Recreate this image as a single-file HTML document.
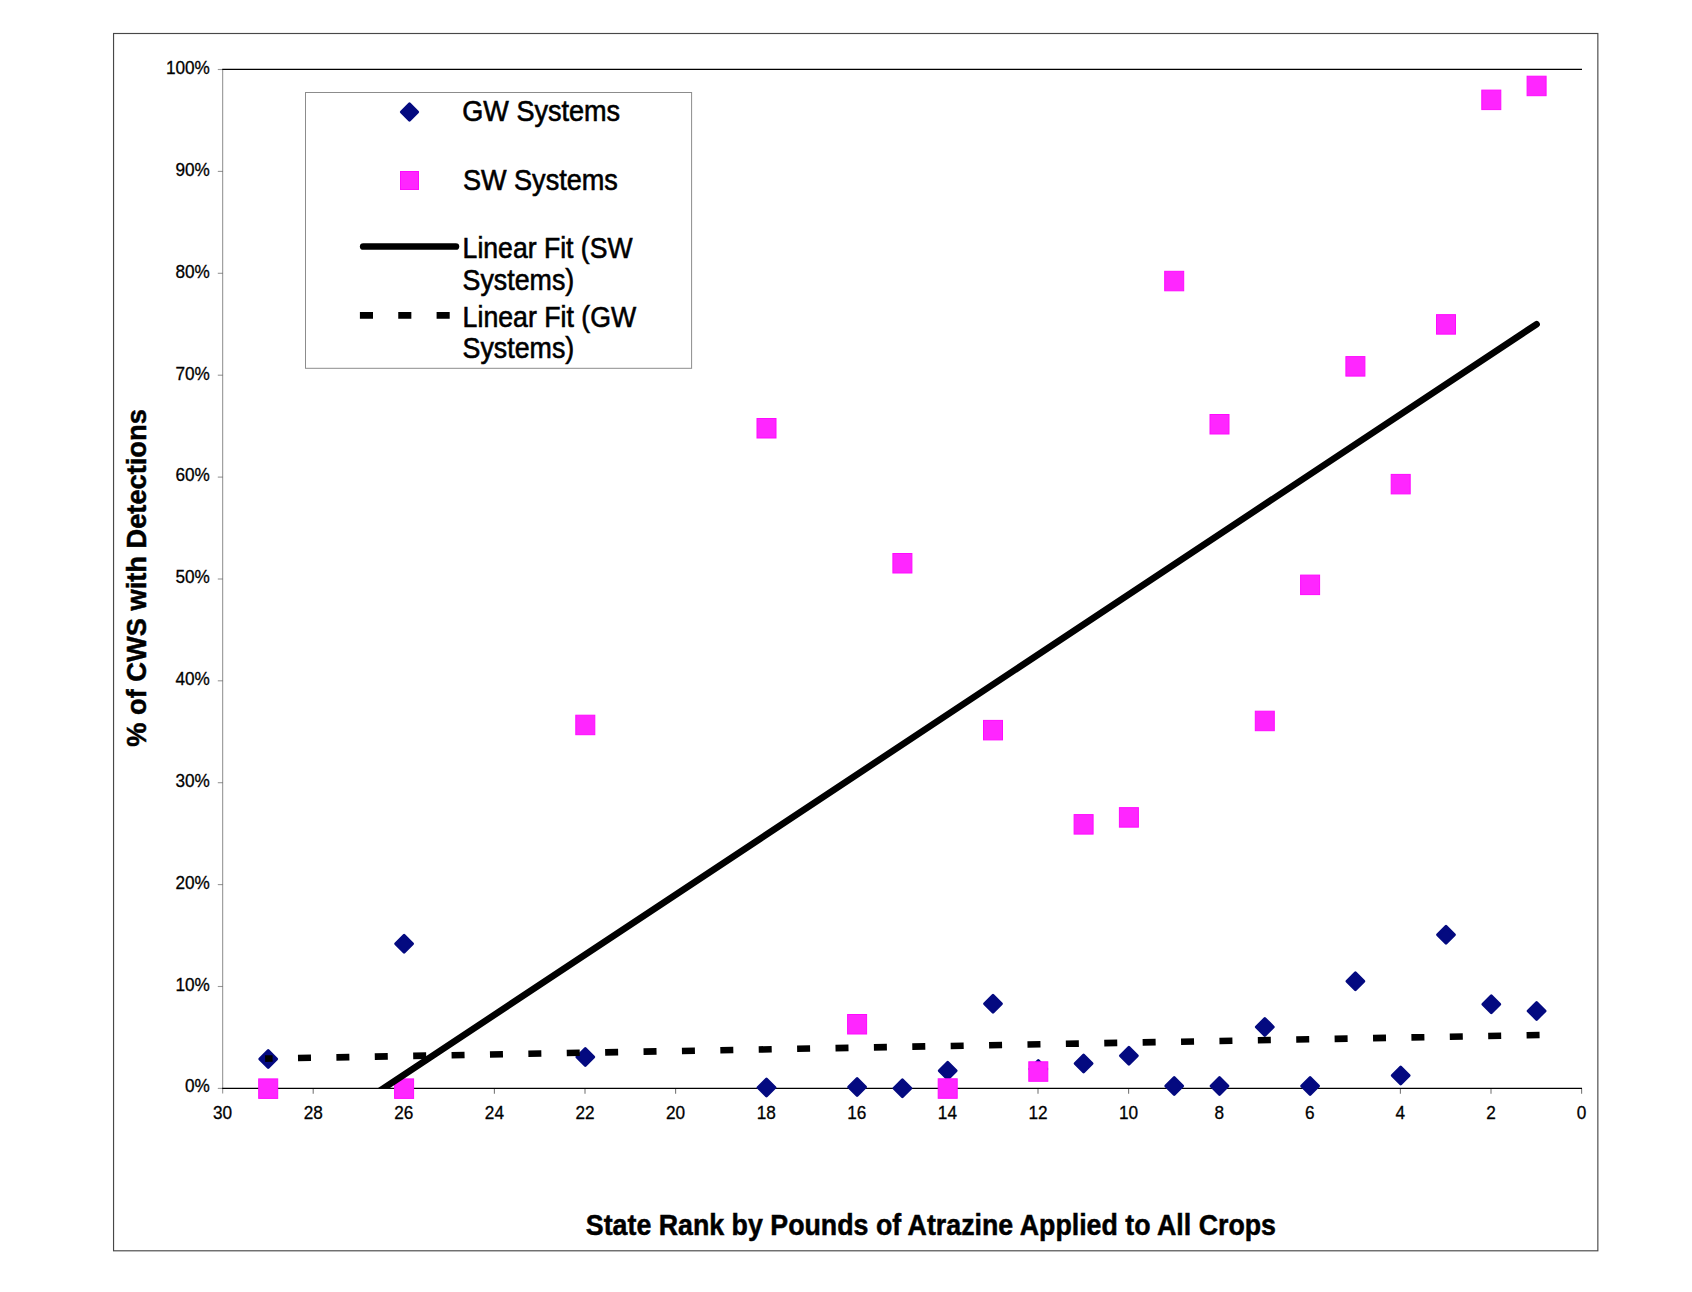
<!DOCTYPE html>
<html lang="en"><head><meta charset="utf-8"><title>Atrazine detections chart</title>
<style>
html,body{margin:0;padding:0;background:#fff;}
body{width:1692px;height:1292px;overflow:hidden;position:relative;}
svg{position:absolute;left:0;top:0;display:block;}
text{font-family:"Liberation Sans","Helvetica","Arial",sans-serif;fill:#000;}
</style></head><body>
<svg width="1692" height="1292" viewBox="0 0 1692 1292">
<rect x="0" y="0" width="1692" height="1292" fill="#fff"/>

<rect x="113.55" y="33.5" width="1484.3" height="1217.3" fill="none" stroke="#484848" stroke-width="1.15"/>
<g stroke="#303030" stroke-opacity="0.5" stroke-width="1.1" fill="none">
<line x1="222.65" y1="69.4" x2="222.65" y2="1093.6"/>
<line x1="217.8" y1="1088.4" x2="222.6" y2="1088.4"/>
<line x1="217.8" y1="986.5" x2="222.6" y2="986.5"/>
<line x1="217.8" y1="884.6" x2="222.6" y2="884.6"/>
<line x1="217.8" y1="782.7" x2="222.6" y2="782.7"/>
<line x1="217.8" y1="680.8" x2="222.6" y2="680.8"/>
<line x1="217.8" y1="579.0" x2="222.6" y2="579.0"/>
<line x1="217.8" y1="477.1" x2="222.6" y2="477.1"/>
<line x1="217.8" y1="375.2" x2="222.6" y2="375.2"/>
<line x1="217.8" y1="273.3" x2="222.6" y2="273.3"/>
<line x1="217.8" y1="171.4" x2="222.6" y2="171.4"/>
<line x1="217.8" y1="69.5" x2="222.6" y2="69.5"/>
<line x1="1581.6" y1="1088.4" x2="1581.6" y2="1093.7" stroke-opacity="0.65"/>
<line x1="1491.0" y1="1088.4" x2="1491.0" y2="1093.7" stroke-opacity="0.65"/>
<line x1="1400.4" y1="1088.4" x2="1400.4" y2="1093.7" stroke-opacity="0.65"/>
<line x1="1309.8" y1="1088.4" x2="1309.8" y2="1093.7" stroke-opacity="0.65"/>
<line x1="1219.2" y1="1088.4" x2="1219.2" y2="1093.7" stroke-opacity="0.65"/>
<line x1="1128.6" y1="1088.4" x2="1128.6" y2="1093.7" stroke-opacity="0.65"/>
<line x1="1038.0" y1="1088.4" x2="1038.0" y2="1093.7" stroke-opacity="0.65"/>
<line x1="947.4" y1="1088.4" x2="947.4" y2="1093.7" stroke-opacity="0.65"/>
<line x1="856.8" y1="1088.4" x2="856.8" y2="1093.7" stroke-opacity="0.65"/>
<line x1="766.2" y1="1088.4" x2="766.2" y2="1093.7" stroke-opacity="0.65"/>
<line x1="675.6" y1="1088.4" x2="675.6" y2="1093.7" stroke-opacity="0.65"/>
<line x1="585.0" y1="1088.4" x2="585.0" y2="1093.7" stroke-opacity="0.65"/>
<line x1="494.4" y1="1088.4" x2="494.4" y2="1093.7" stroke-opacity="0.65"/>
<line x1="403.8" y1="1088.4" x2="403.8" y2="1093.7" stroke-opacity="0.65"/>
<line x1="313.2" y1="1088.4" x2="313.2" y2="1093.7" stroke-opacity="0.65"/>
</g>
<line x1="222.2" y1="69.4" x2="1582" y2="69.4" stroke="#000" stroke-width="1.15"/>
<line x1="222.2" y1="1088.4" x2="1582" y2="1088.4" stroke="#000" stroke-width="1.25"/>
<text transform="translate(209.90 1092.30) scale(0.9350 1)" font-size="18.4" text-anchor="end" stroke="#000" stroke-width="0.3">0%</text>
<text transform="translate(209.90 990.91) scale(0.9350 1)" font-size="18.4" text-anchor="end" stroke="#000" stroke-width="0.3">10%</text>
<text transform="translate(209.90 889.02) scale(0.9350 1)" font-size="18.4" text-anchor="end" stroke="#000" stroke-width="0.3">20%</text>
<text transform="translate(209.90 787.13) scale(0.9350 1)" font-size="18.4" text-anchor="end" stroke="#000" stroke-width="0.3">30%</text>
<text transform="translate(209.90 685.24) scale(0.9350 1)" font-size="18.4" text-anchor="end" stroke="#000" stroke-width="0.3">40%</text>
<text transform="translate(209.90 583.35) scale(0.9350 1)" font-size="18.4" text-anchor="end" stroke="#000" stroke-width="0.3">50%</text>
<text transform="translate(209.90 481.46) scale(0.9350 1)" font-size="18.4" text-anchor="end" stroke="#000" stroke-width="0.3">60%</text>
<text transform="translate(209.90 379.57) scale(0.9350 1)" font-size="18.4" text-anchor="end" stroke="#000" stroke-width="0.3">70%</text>
<text transform="translate(209.90 277.68) scale(0.9350 1)" font-size="18.4" text-anchor="end" stroke="#000" stroke-width="0.3">80%</text>
<text transform="translate(209.90 175.79) scale(0.9350 1)" font-size="18.4" text-anchor="end" stroke="#000" stroke-width="0.3">90%</text>
<text transform="translate(209.90 73.90) scale(0.9350 1)" font-size="18.4" text-anchor="end" stroke="#000" stroke-width="0.3">100%</text>
<text transform="translate(1581.60 1119.20) scale(0.9350 1)" font-size="18.4" text-anchor="middle" stroke="#000" stroke-width="0.3">0</text>
<text transform="translate(1491.00 1119.20) scale(0.9350 1)" font-size="18.4" text-anchor="middle" stroke="#000" stroke-width="0.3">2</text>
<text transform="translate(1400.40 1119.20) scale(0.9350 1)" font-size="18.4" text-anchor="middle" stroke="#000" stroke-width="0.3">4</text>
<text transform="translate(1309.80 1119.20) scale(0.9350 1)" font-size="18.4" text-anchor="middle" stroke="#000" stroke-width="0.3">6</text>
<text transform="translate(1219.20 1119.20) scale(0.9350 1)" font-size="18.4" text-anchor="middle" stroke="#000" stroke-width="0.3">8</text>
<text transform="translate(1128.60 1119.20) scale(0.9350 1)" font-size="18.4" text-anchor="middle" stroke="#000" stroke-width="0.3">10</text>
<text transform="translate(1038.00 1119.20) scale(0.9350 1)" font-size="18.4" text-anchor="middle" stroke="#000" stroke-width="0.3">12</text>
<text transform="translate(947.40 1119.20) scale(0.9350 1)" font-size="18.4" text-anchor="middle" stroke="#000" stroke-width="0.3">14</text>
<text transform="translate(856.80 1119.20) scale(0.9350 1)" font-size="18.4" text-anchor="middle" stroke="#000" stroke-width="0.3">16</text>
<text transform="translate(766.20 1119.20) scale(0.9350 1)" font-size="18.4" text-anchor="middle" stroke="#000" stroke-width="0.3">18</text>
<text transform="translate(675.60 1119.20) scale(0.9350 1)" font-size="18.4" text-anchor="middle" stroke="#000" stroke-width="0.3">20</text>
<text transform="translate(585.00 1119.20) scale(0.9350 1)" font-size="18.4" text-anchor="middle" stroke="#000" stroke-width="0.3">22</text>
<text transform="translate(494.40 1119.20) scale(0.9350 1)" font-size="18.4" text-anchor="middle" stroke="#000" stroke-width="0.3">24</text>
<text transform="translate(403.80 1119.20) scale(0.9350 1)" font-size="18.4" text-anchor="middle" stroke="#000" stroke-width="0.3">26</text>
<text transform="translate(313.20 1119.20) scale(0.9350 1)" font-size="18.4" text-anchor="middle" stroke="#000" stroke-width="0.3">28</text>
<text transform="translate(222.60 1119.20) scale(0.9350 1)" font-size="18.4" text-anchor="middle" stroke="#000" stroke-width="0.3">30</text>
<path d="M268.2 1050.5L276.7 1059.0L268.2 1067.5L259.7 1059.0Z" fill="#040a80" stroke="#040a80" stroke-width="2.8" stroke-linejoin="round"/>
<path d="M404.1 935.3L412.6 943.8L404.1 952.3L395.6 943.8Z" fill="#040a80" stroke="#040a80" stroke-width="2.8" stroke-linejoin="round"/>
<path d="M585.3 1048.5L593.8 1057.0L585.3 1065.5L576.8 1057.0Z" fill="#040a80" stroke="#040a80" stroke-width="2.8" stroke-linejoin="round"/>
<path d="M766.5 1078.9L775.0 1087.4L766.5 1095.9L758.0 1087.4Z" fill="#040a80" stroke="#040a80" stroke-width="2.8" stroke-linejoin="round"/>
<path d="M857.1 1078.5L865.6 1087.0L857.1 1095.5L848.6 1087.0Z" fill="#040a80" stroke="#040a80" stroke-width="2.8" stroke-linejoin="round"/>
<path d="M902.4 1079.8L910.9 1088.3L902.4 1096.8L893.9 1088.3Z" fill="#040a80" stroke="#040a80" stroke-width="2.8" stroke-linejoin="round"/>
<path d="M947.7 1062.3L956.2 1070.8L947.7 1079.3L939.2 1070.8Z" fill="#040a80" stroke="#040a80" stroke-width="2.8" stroke-linejoin="round"/>
<path d="M993.0 995.3L1001.5 1003.8L993.0 1012.3L984.5 1003.8Z" fill="#040a80" stroke="#040a80" stroke-width="2.8" stroke-linejoin="round"/>
<path d="M1038.3 1060.5L1046.8 1069.0L1038.3 1077.5L1029.8 1069.0Z" fill="#040a80" stroke="#040a80" stroke-width="2.8" stroke-linejoin="round"/>
<path d="M1083.6 1054.9L1092.1 1063.4L1083.6 1071.9L1075.1 1063.4Z" fill="#040a80" stroke="#040a80" stroke-width="2.8" stroke-linejoin="round"/>
<path d="M1128.9 1047.3L1137.4 1055.8L1128.9 1064.3L1120.4 1055.8Z" fill="#040a80" stroke="#040a80" stroke-width="2.8" stroke-linejoin="round"/>
<path d="M1174.2 1077.6L1182.7 1086.1L1174.2 1094.6L1165.7 1086.1Z" fill="#040a80" stroke="#040a80" stroke-width="2.8" stroke-linejoin="round"/>
<path d="M1219.5 1077.6L1228.0 1086.1L1219.5 1094.6L1211.0 1086.1Z" fill="#040a80" stroke="#040a80" stroke-width="2.8" stroke-linejoin="round"/>
<path d="M1264.8 1018.4L1273.3 1026.9L1264.8 1035.4L1256.3 1026.9Z" fill="#040a80" stroke="#040a80" stroke-width="2.8" stroke-linejoin="round"/>
<path d="M1310.1 1077.6L1318.6 1086.1L1310.1 1094.6L1301.6 1086.1Z" fill="#040a80" stroke="#040a80" stroke-width="2.8" stroke-linejoin="round"/>
<path d="M1355.4 972.7L1363.9 981.2L1355.4 989.7L1346.9 981.2Z" fill="#040a80" stroke="#040a80" stroke-width="2.8" stroke-linejoin="round"/>
<path d="M1400.7 1067.0L1409.2 1075.5L1400.7 1084.0L1392.2 1075.5Z" fill="#040a80" stroke="#040a80" stroke-width="2.8" stroke-linejoin="round"/>
<path d="M1446.0 926.3L1454.5 934.8L1446.0 943.3L1437.5 934.8Z" fill="#040a80" stroke="#040a80" stroke-width="2.8" stroke-linejoin="round"/>
<path d="M1491.3 995.8L1499.8 1004.3L1491.3 1012.8L1482.8 1004.3Z" fill="#040a80" stroke="#040a80" stroke-width="2.8" stroke-linejoin="round"/>
<path d="M1536.6 1002.4L1545.1 1010.9L1536.6 1019.4L1528.1 1010.9Z" fill="#040a80" stroke="#040a80" stroke-width="2.8" stroke-linejoin="round"/>
<rect x="258.70" y="1078.90" width="19" height="19.5" fill="#ff26ff" stroke="#ff0aff" stroke-width="1"/>
<rect x="394.60" y="1078.90" width="19" height="19.5" fill="#ff26ff" stroke="#ff0aff" stroke-width="1"/>
<rect x="575.80" y="715.20" width="19" height="19.5" fill="#ff26ff" stroke="#ff0aff" stroke-width="1"/>
<rect x="757.00" y="418.50" width="19" height="19.5" fill="#ff26ff" stroke="#ff0aff" stroke-width="1"/>
<rect x="847.60" y="1014.50" width="19" height="19.5" fill="#ff26ff" stroke="#ff0aff" stroke-width="1"/>
<rect x="892.90" y="553.50" width="19" height="19.5" fill="#ff26ff" stroke="#ff0aff" stroke-width="1"/>
<rect x="938.20" y="1078.80" width="19" height="19.5" fill="#ff26ff" stroke="#ff0aff" stroke-width="1"/>
<rect x="983.50" y="720.40" width="19" height="19.5" fill="#ff26ff" stroke="#ff0aff" stroke-width="1"/>
<rect x="1028.80" y="1061.80" width="19" height="19.5" fill="#ff26ff" stroke="#ff0aff" stroke-width="1"/>
<rect x="1074.10" y="814.60" width="19" height="19.5" fill="#ff26ff" stroke="#ff0aff" stroke-width="1"/>
<rect x="1119.40" y="807.65" width="19" height="19.5" fill="#ff26ff" stroke="#ff0aff" stroke-width="1"/>
<rect x="1164.70" y="271.30" width="19" height="19.5" fill="#ff26ff" stroke="#ff0aff" stroke-width="1"/>
<rect x="1210.00" y="414.50" width="19" height="19.5" fill="#ff26ff" stroke="#ff0aff" stroke-width="1"/>
<rect x="1255.30" y="711.20" width="19" height="19.5" fill="#ff26ff" stroke="#ff0aff" stroke-width="1"/>
<rect x="1300.60" y="575.10" width="19" height="19.5" fill="#ff26ff" stroke="#ff0aff" stroke-width="1"/>
<rect x="1345.90" y="356.60" width="19" height="19.5" fill="#ff26ff" stroke="#ff0aff" stroke-width="1"/>
<rect x="1391.20" y="474.40" width="19" height="19.5" fill="#ff26ff" stroke="#ff0aff" stroke-width="1"/>
<rect x="1436.50" y="314.65" width="19" height="19.5" fill="#ff26ff" stroke="#ff0aff" stroke-width="1"/>
<rect x="1481.80" y="90.10" width="19" height="19.5" fill="#ff26ff" stroke="#ff0aff" stroke-width="1"/>
<rect x="1527.10" y="76.20" width="19" height="19.5" fill="#ff26ff" stroke="#ff0aff" stroke-width="1"/>
<line x1="265.1" y1="1058.65" x2="1539.7" y2="1035.04" stroke="#000" stroke-width="6.6" stroke-dasharray="13 25.4" stroke-dashoffset="5.5"/>
<clipPath id="pc"><rect x="222" y="60" width="1380" height="1028.4"/></clipPath>
<line clip-path="url(#pc)" x1="370" y1="1097.28" x2="1536.6" y2="324.20" stroke="#000" stroke-width="6.6" stroke-linecap="round"/>
<rect x="305.5" y="92.5" width="386.1" height="275.8" fill="#fff" stroke="#8c8c8c" stroke-width="1"/>
<path d="M409.5 103.8L417.7 112.0L409.5 120.2L401.3 112.0Z" fill="#040a80" stroke="#040a80" stroke-width="2.8" stroke-linejoin="round"/>
<rect x="400.50" y="171.50" width="18" height="18" fill="#ff26ff" stroke="#ff0aff" stroke-width="1"/>
<line x1="363.2" y1="246.5" x2="455.9" y2="246.5" stroke="#000" stroke-width="6.7" stroke-linecap="round"/>
<line x1="359.9" y1="315.4" x2="449.7" y2="315.4" stroke="#000" stroke-width="6.7" stroke-dasharray="13.1 25.25"/>
<text transform="translate(462.30 120.50) scale(0.9468 1)" font-size="28.6" stroke="#000" stroke-width="0.6">GW Systems</text>
<text transform="translate(462.90 189.60) scale(0.9470 1)" font-size="28.6" stroke="#000" stroke-width="0.6">SW Systems</text>
<text transform="translate(462.60 258.35) scale(0.9303 1)" font-size="28.6" stroke="#000" stroke-width="0.6">Linear Fit (SW</text>
<text transform="translate(462.60 290.10) scale(0.9370 1)" font-size="28.6" stroke="#000" stroke-width="0.6">Systems)</text>
<text transform="translate(462.60 326.90) scale(0.9340 1)" font-size="28.6" stroke="#000" stroke-width="0.6">Linear Fit (GW</text>
<text transform="translate(462.60 357.50) scale(0.9370 1)" font-size="28.6" stroke="#000" stroke-width="0.6">Systems)</text>
<text transform="translate(930.90 1234.70) scale(0.9234 1)" font-size="29" text-anchor="middle" font-weight="bold" stroke="#000" stroke-width="0.5">State Rank by Pounds of Atrazine Applied to All Crops</text>
<text transform="translate(146.00 578.00) rotate(-90)" font-size="27.25" text-anchor="middle" font-weight="bold" stroke="#000" stroke-width="0.5">% of CWS with Detections</text>
</svg>
</body></html>
